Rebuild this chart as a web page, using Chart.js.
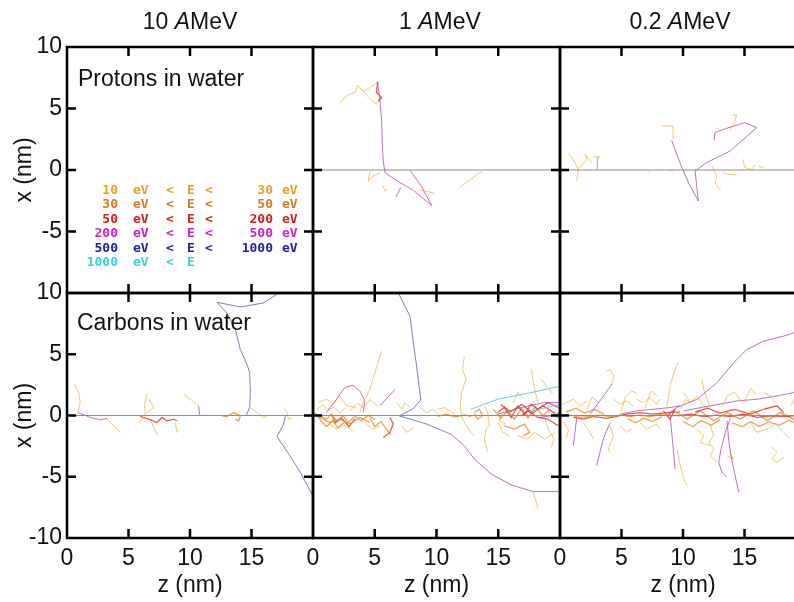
<!DOCTYPE html>
<html>
<head>
<meta charset="utf-8">
<script src="https://cdn.jsdelivr.net/npm/chart.js@4.4.1/dist/chart.umd.min.js"></script>
<style>
  body { margin: 0; background: #fff; }
  #fig { position: relative; width: 794px; height: 602px; overflow: hidden; font-family: 'Liberation Sans', Arial, sans-serif; color: #111; }
  #fig canvas { position: absolute; left: 0; top: 0; }
  .colTitle { position: absolute; top: 7px; width: 200px; text-align: center; font-size: 23px; line-height: 28px; }
  .note { position: absolute; font-size: 23px; line-height: 28px; white-space: nowrap; }
  .leg { position: absolute; left: 0; top: 0; font: bold 13px 'DejaVu Sans Mono', monospace; line-height: 14px; }
  .leg span { position: absolute; white-space: nowrap; }
</style>
</head>
<body>
<div id="fig">
  <canvas id="p0" width="812" height="602"></canvas>
  <canvas id="p1" width="812" height="602"></canvas>
  <canvas id="p2" width="812" height="602"></canvas>
  <canvas id="c0" width="812" height="602"></canvas>
  <canvas id="c1" width="812" height="602"></canvas>
  <canvas id="c2" width="812" height="602"></canvas>
  <div class="colTitle" style="left:90px">10 <i>A</i>MeV</div>
  <div class="colTitle" style="left:340px">1 <i>A</i>MeV</div>
  <div class="colTitle" style="left:580px">0.2 <i>A</i>MeV</div>
  <div class="note" style="left:78px;top:64px">Protons in water</div>
  <div class="note" style="left:77px;top:308px">Carbons in water</div>
  <div id="legend"></div>
</div>
<script>
// energy bands of the secondary electrons
const energyLow = [10, 30, 50, 200, 500, 1000];
const energyHigh = [30, 50, 200, 500, 1000, null];

// axis ticks
const zTicks = [0, 5, 10, 15];
const xTicksTop = [10, 5, 0, -5];
const xTicksBottom = [10, 5, 0, -5, -10];
const ionPath = [0, 20];

// tracks: [band, z0, x0, z1, x1, ...] (nm)
const protons10 = [];

const protons1 = [
  [3, 7.86,-0.03, 8.81,-1.38, 9.62,-2.90, 8.13,-1.65, 6.91,-0.95, 5.83,-0.22, 5.69,0.73, 5.61,2.09, 5.56,3.98, 5.42,5.61, 5.28,6.69, 5.23,7.18],
  [2, 5.23,7.18, 5.15,6.30, 5.56,5.90, 5.30,5.60],
  [0, 2.22,5.47, 2.71,6.02, 3.47,6.37, 3.58,6.91, 4.07,6.37, 4.66,6.75, 5.20,7.10],
  [0, 4.07,6.37, 4.66,5.75, 5.15,5.34, 5.42,5.83],
  [0, 4.61,-0.08, 4.47,-0.89, 4.88,-0.49, 5.42,-0.22],
  [0, 5.69,-1.30, 5.83,-1.71, 6.02,-1.57],
  [3, 6.72,-2.20, 7.10,-1.44],
  [0, 11.92,-1.38, 12.52,-0.95, 13.01,-0.62, 13.28,-0.30, 13.69,-0.16],
  [0, 8.62,-1.65, 9.35,-1.76, 9.89,-1.92]
];

const protons02 = [
  [3, 9.08,2.41, 9.49,1.27, 9.97,0.05, 10.57,-1.30, 11.25,-2.52, 10.98,-0.08, 11.92,0.60, 13.82,1.54, 15.99,3.44, 15.04,3.85, 13.55,3.39, 12.60,3.04, 12.52,2.41],
  [0, 8.27,3.58, 9.16,3.58, 9.21,2.49],
  [0, 14.04,4.47, 14.36,4.47, 14.15,3.72, 13.82,3.23],
  [0, 0.68,1.41, 1.22,0.60, 1.49,0.05, 1.36,-0.89],
  [0, 1.49,0.05, 2.17,0.87, 2.03,1.27, 2.57,0.60],
  [0, 2.71,1.06, 3.25,1.06, 3.04,1.06, 3.04,0.00],
  [0, 7.18,-0.08, 7.37,-0.22],
  [0, 8.81,0.05, 9.21,-0.08],
  [0, 12.33,0.33, 12.74,-0.49, 12.60,-1.03, 13.06,-1.65],
  [0, 13.28,-0.22, 13.69,-0.35, 14.36,-0.41],
  [0, 14.85,0.87, 15.04,0.19, 15.58,0.05, 15.85,0.41],
  [0, 16.12,0.33, 16.59,0.14]
];

const carbons10 = [
  [4, 17.21,10.0, 15.99,9.19, 14.09,8.86, 12.20,9.24, 13.01,8.37, 13.69,7.02, 14.09,5.39, 14.63,4.17, 14.85,3.50, 14.91,1.87, 14.85,0.65, 14.58,0.03],
  [4, 17.75,-0.08, 17.56,-0.84, 17.07,-1.71, 18.02,-3.14, 18.97,-4.63, 20.0,-6.59],
  [3, 0.81,0.24, 1.22,0.11, 1.90,-0.16, 2.71,-0.35, 3.25,-0.24],
  [0, 0.60,2.55, 0.95,1.87, 1.08,1.06, 0.87,0.24],
  [0, 3.25,-0.30, 3.79,-0.84, 4.34,-1.38],
  [0, 6.50,1.73, 6.29,0.87, 6.37,-0.03, 5.83,-0.57],
  [2, 5.96,-0.08, 6.64,-0.30, 7.32,-0.57, 7.72,-0.16, 8.13,-0.43, 8.67,-0.30, 8.94,-0.43],
  [0, 6.78,-0.30, 7.10,-1.11, 7.37,-1.65],
  [0, 8.81,-0.57, 8.94,-1.38, 9.08,-1.25],
  [0, 9.49,1.73, 10.03,1.33, 10.70,0.79],
  [3, 10.70,0.79, 10.79,0.03],
  [0, 6.64,1.33, 7.05,0.65, 6.50,0.24],
  [1, 12.60,-0.03, 13.01,-0.08, 13.55,0.24, 14.09,-0.03, 13.96,-0.43, 13.69,-0.30],
  [0, 14.91,0.65, 15.45,0.24, 15.99,-0.16, 16.26,-0.08],
  [0, 17.62,0.65, 17.89,0.24, 18.02,-0.30, 18.29,-0.24]
];

const carbons1 = [
  [4, 6.91,10.0, 7.86,8.10, 8.13,5.93, 8.46,3.50, 8.73,1.27, 8.13,0.57, 6.99,-0.03, 9.21,-0.70, 10.30,-1.17],
  [3, 10.30,-1.17, 11.17,-1.52, 12.25,-2.47, 13.06,-3.55, 14.42,-4.77, 16.04,-5.66, 17.81,-6.21, 20.05,-6.21],
  [0, 5.56,5.26, 5.01,3.50, 4.61,2.14, 4.07,1.06, 3.79,0.24],
  [3, 1.08,0.24, 1.90,1.33, 2.57,2.28, 3.25,2.47, 3.79,2.01, 4.20,1.19, 4.07,0.24],
  [3, 5.42,0.79, 6.64,2.14],
  [1, 0.54,-0.03, 1.08,-0.30, 1.49,0.11, 1.90,-0.43, 2.44,-0.03, 2.85,-0.57, 3.39,-0.08, 3.93,-0.43, 4.47,0.03, 5.01,-0.35],
  [1, 0.54,-0.16, 1.36,-0.57, 2.17,-0.30, 2.98,-0.70, 3.79,-0.16, 4.61,-0.57],
  [2, 6.23,-0.16, 6.50,-0.70, 6.23,-1.38, 5.69,-1.79],
  [0, 0.41,1.06, 1.08,1.33, 1.63,0.92, 2.17,1.60, 2.71,0.79, 3.52,0.65],
  [0, 1.36,-0.70, 1.90,-1.11, 2.57,-0.84, 3.25,-1.25],
  [0, 4.34,-0.70, 4.88,-1.11, 5.42,-0.84],
  [0, 6.78,1.06, 7.18,0.51, 7.45,1.06, 7.86,0.65],
  [0, 7.18,-0.84, 7.59,-1.38, 8.13,-0.98],
  [0, 8.67,0.65, 9.21,0.24, 9.76,0.51, 10.30,-0.03],
  [1, 10.08,-0.08, 10.80,0.10, 11.50,-0.10, 12.30,0.05, 12.80,-0.10],
  [0, 0.30,0.50, 0.80,0.90, 1.20,0.40, 1.70,0.70, 2.20,0.20, 2.60,0.60],
  [1, 0.20,0.20, 0.70,-0.50, 1.10,-0.90, 1.60,-0.40, 2.00,-1.00, 2.50,-0.60],
  [2, 1.50,0.10, 1.80,-0.60, 2.30,-0.20, 2.90,-0.90, 3.40,-0.30],
  [0, 3.00,0.40, 3.60,1.00, 4.10,0.60, 4.60,1.30, 5.20,0.80],
  [1, 4.60,-0.20, 5.00,-0.90, 5.50,-0.50, 6.00,-1.20, 6.30,-1.60],
  [0, 12.25,4.85, 12.11,3.77, 12.38,2.96, 12.03,1.87, 11.92,0.79, 12.11,-0.30, 12.79,-1.38, 13.06,-1.65],
  [0, 10.08,0.51, 10.62,0.65, 11.30,0.24, 11.71,-0.16],
  [1, 13.06,0.24, 13.47,0.51, 13.74,-0.03, 13.33,-0.30, 13.06,0.11],
  [0, 13.88,0.79, 14.15,0.24, 14.28,-0.84, 14.01,-1.11, 13.88,-1.92, 14.15,-3.01],
  [5, 12.79,0.51, 14.96,1.33, 17.67,1.87, 20.11,2.41],
  [5, 17.67,0.38, 20.11,0.92],
  [2, 14.96,0.24, 15.50,0.65, 16.04,-0.16, 16.59,0.79, 17.13,0.11, 17.67,0.92, 18.21,0.51, 19.02,1.06, 19.84,0.65],
  [2, 16.86,-0.03, 17.40,0.38, 18.21,-0.16, 19.02,-0.30, 19.84,-0.84],
  [3, 14.96,0.11, 16.86,0.65, 18.75,1.06, 20.11,1.06],
  [3, 18.21,-0.16, 19.29,-0.03, 20.11,0.24],
  [1, 14.60,0.50, 15.20,-0.20, 15.80,0.40, 16.30,-0.30, 16.90,0.60, 17.40,-0.20, 18.00,0.70, 18.60,0.00, 19.20,0.50, 19.80,-0.20],
  [2, 15.20,0.90, 16.00,0.30, 16.90,0.90, 17.80,0.20, 18.60,0.80, 19.60,0.20],
  [0, 15.00,-0.50, 15.30,-1.30, 15.90,-1.70],
  [0, 18.80,-0.30, 19.10,-1.20, 19.50,-1.90, 19.30,-2.60],
  [0, 16.20,1.00, 16.60,1.90, 17.00,1.40],
  [0, 17.67,3.77, 17.81,2.96, 17.94,2.14, 18.21,1.06],
  [0, 18.48,2.96, 19.02,2.28, 19.43,1.73],
  [1, 15.50,-0.84, 16.31,-1.11, 17.13,-0.70, 17.54,-1.38, 17.00,-1.65],
  [0, 16.59,-1.65, 17.40,-1.92, 17.94,-1.38, 18.75,-1.92, 19.56,-1.38],
  [0, 17.81,-6.26, 18.08,-7.07, 18.21,-7.61],
  [0, 15.34,0.24, 15.07,-0.43, 15.61,-0.70]
];

const carbons02 = [
  [1, 0.00,-0.03, 0.81,0.03, 1.63,-0.16, 2.44,-0.08, 3.25,0.03, 4.07,-0.08, 4.88,0.03, 5.69,-0.08, 6.50,0.03, 7.32,-0.08, 8.13,0.08, 8.94,-0.03, 9.76,0.03],
  [2, 1.08,-0.16, 1.90,-0.30, 2.71,-0.08, 3.79,-0.24, 4.61,-0.08, 5.42,0.11, 6.50,0.24, 7.59,0.11, 8.67,0.24, 9.76,0.30],
  [3, 2.44,0.11, 3.25,1.19, 3.93,2.14, 4.20,2.55],
  [0, 4.20,2.55, 4.39,3.23, 4.07,3.77, 3.79,3.64],
  [3, 1.36,-0.16, 1.22,-1.38, 1.08,-2.47],
  [3, 4.07,-0.57, 3.52,-1.92, 2.98,-4.09],
  [3, 8.94,0.11, 9.08,-1.38, 9.21,-2.74, 9.35,-4.36],
  [0, 8.67,0.51, 8.94,2.41, 9.35,3.77, 9.62,4.31],
  [0, 0.27,0.92, 1.08,1.33, 1.63,0.79, 2.17,1.19],
  [0, 1.90,-0.57, 2.44,-1.38, 2.71,-1.92],
  [0, 4.07,-0.84, 4.34,-1.65, 3.93,-2.74, 4.07,-3.01],
  [0, 4.34,1.33, 4.88,0.92, 5.42,1.19, 5.96,0.79],
  [0, 4.88,-0.84, 5.42,-1.38, 5.83,-1.11],
  [0, 6.23,1.33, 6.78,1.06, 7.32,1.46, 7.86,0.92, 8.13,1.33],
  [0, 6.50,-0.57, 7.05,-1.11, 7.86,-0.70, 8.13,-1.11],
  [3, 4.88,0.11, 6.23,0.38, 7.59,0.51, 8.94,0.65, 9.76,0.79],
  [2, 8.40,0.38, 8.94,-0.30, 9.35,0.51, 8.67,-0.03],
  [0, 0.30,-0.50, 0.70,-1.20, 0.50,-1.80],
  [1, 0.50,0.30, 1.30,0.60, 2.00,0.20, 2.80,0.50, 3.60,0.10],
  [0, 2.20,0.50, 2.60,1.50, 3.10,1.10],
  [0, 5.00,0.40, 5.30,1.50, 5.80,2.00, 6.30,1.80],
  [1, 5.50,-0.30, 6.20,-0.60, 6.80,-0.20, 7.50,-0.50, 8.30,-0.10],
  [0, 6.90,0.60, 7.40,2.00, 7.90,1.60],
  [0, 9.80,0.50, 10.20,1.30, 10.80,0.90],
  [1, 10.00,-0.50, 10.80,-0.90, 11.50,-0.40, 12.30,-0.80, 13.00,-0.30],
  [0, 13.20,0.70, 13.60,1.60, 14.20,1.90, 14.70,1.20],
  [1, 14.00,-0.60, 14.80,-0.90, 15.50,-0.50, 16.20,-0.90, 17.00,-0.50, 17.80,-0.80, 18.60,-0.40, 19.40,-0.70],
  [2, 11.00,0.30, 12.00,0.60, 13.00,0.20, 14.20,0.50, 15.50,0.10, 16.50,0.50],
  [0, 18.80,0.80, 19.20,1.70, 19.60,1.20],
  [0, 15.00,1.20, 15.50,2.20, 16.00,1.70],
  [3, 9.51,0.65, 11.14,1.33, 12.76,2.68, 14.12,4.31, 15.20,5.39, 16.56,6.07, 18.18,6.48, 19.02,6.75, 20.00,6.90],
  [3, 13.85,-0.24, 13.44,-1.38, 13.09,-2.74, 12.90,-3.82, 13.17,-4.63, 13.58,-5.04],
  [3, 13.58,-0.43, 13.71,-1.92, 13.85,-3.01, 14.12,-4.36, 14.53,-6.26],
  [3, 10.05,0.38, 12.22,0.79, 14.39,1.19, 16.02,1.33, 17.64,1.60, 19.02,1.87],
  [2, 9.51,-0.03, 10.60,0.11, 11.68,-0.08, 12.76,0.03, 13.85,-0.08, 14.93,0.11, 16.02,-0.16, 17.10,-0.03, 18.18,-0.08, 19.02,-0.03, 20.00,0.05],
  [1, 9.51,0.24, 10.33,-0.30, 11.41,0.38, 12.49,-0.43, 13.58,0.24, 14.66,-0.30, 15.74,0.38, 16.83,-0.43, 17.91,0.24, 19.02,-0.30, 20.00,0.10],
  [0, 11.54,2.95, 11.68,2.14, 11.95,1.33, 12.22,0.65],
  [0, 10.05,1.87, 10.60,1.06, 11.14,1.60, 11.68,0.79],
  [0, 12.22,-0.84, 12.49,-1.65, 12.09,-2.20, 12.49,-2.74, 12.22,-3.28, 12.76,-3.82],
  [0, 9.51,-2.74, 9.78,-4.09, 10.05,-5.17, 10.33,-5.72],
  [0, 15.47,-0.57, 16.02,-1.38, 16.83,-1.11, 17.37,-0.84],
  [0, 17.10,-2.47, 17.64,-3.01, 17.24,-3.55, 17.64,-3.82, 18.18,-3.41],
  [0, 16.56,1.87, 17.10,1.60, 17.51,1.06],
  [0, 17.64,-0.84, 18.18,-1.38, 18.72,-1.92],
  [0, 11.14,-1.11, 11.68,-1.65, 11.41,-2.20, 12.22,-2.47],
  [0, 13.85,-3.01, 14.12,-3.55, 13.58,-3.28],
  [2, 16.56,0.51, 17.64,0.79, 18.18,0.24]
];

// styles
const trackColors = ['rgba(236,180,70,0.75)', 'rgba(230,140,40,0.8)', 'rgba(214,50,45,0.8)',
                     'rgba(175,90,175,0.85)', 'rgba(105,105,170,0.85)', 'rgba(80,200,225,0.9)'];
const legendColors = ['#e3a32a', '#d9792a', '#d61e1e', '#d21ec0', '#1e1ea0', '#3cd0d8'];
const FONT = "'Liberation Sans', Arial, sans-serif";
const W = 812, H = 602;
const colL = [67, 313, 560], colR = [313, 560, 806];
const rowT = [47, 293], rowB = [293, 538];

// box with inward ticks on every side
const frame = {
  id: 'frame',
  afterDraw(chart) {
    const { ctx, chartArea: a, scales: { x, y } } = chart;
    ctx.save();
    ctx.strokeStyle = '#000';
    ctx.lineWidth = 2.5;
    ctx.strokeRect(a.left, a.top, a.right - a.left, a.bottom - a.top);
    ctx.beginPath();
    zTicks.forEach(v => {
      if (v <= x.min || v >= x.max) return;
      const px = x.getPixelForValue(v);
      ctx.moveTo(px, a.top); ctx.lineTo(px, a.top + 9);
      ctx.moveTo(px, a.bottom); ctx.lineTo(px, a.bottom - 9);
    });
    xTicksBottom.forEach(v => {
      if (v <= y.min || v >= y.max) return;
      const py = y.getPixelForValue(v);
      ctx.moveTo(a.left, py); ctx.lineTo(a.left + 9, py);
      ctx.moveTo(a.right, py); ctx.lineTo(a.right - 9, py);
    });
    ctx.stroke();
    ctx.restore();
  }
};

function panel(id, tracks, col, row, withPath) {
  const datasets = [];
  if (withPath) {
    datasets.push({ data: ionPath.map(z => ({ x: z, y: 0 })), borderColor: '#8c8c8c', borderWidth: 1.2, showLine: true });
  }
  tracks.forEach(t => {
    const pts = [];
    for (let i = 1; i < t.length; i += 2) pts.push({ x: t[i], y: t[i + 1] });
    datasets.push({ data: pts, borderColor: trackColors[t[0]], borderWidth: (t[0] === 1 || t[0] === 2) ? 1.3 : 1, showLine: true });
  });

  const showY = col === 0, showX = row === 1;
  const yTicks = row === 0 ? xTicksTop : xTicksBottom;

  const xScale = {
    type: 'linear', min: 0, max: 20, display: showX,
    grid: { display: false, drawTicks: false }, border: { display: false },
    afterBuildTicks: s => { s.ticks = zTicks.map(v => ({ value: v })); },
    ticks: { padding: 7, color: '#111', font: { family: FONT, size: 23 } },
    title: { display: true, text: 'z (nm)', color: '#111', font: { family: FONT, size: 23 }, padding: { top: 0, bottom: 3 } }
  };
  if (showX) xScale.afterFit = s => { s.height = H - rowB[1]; };

  const yScale = {
    type: 'linear', min: -10, max: 10, display: showY,
    grid: { display: false, drawTicks: false }, border: { display: false },
    afterBuildTicks: s => { s.ticks = yTicks.map(v => ({ value: v })); },
    ticks: { padding: 5, color: '#111', font: { family: FONT, size: 23 } },
    title: { display: true, text: 'x (nm)', color: '#111', font: { family: FONT, size: 23 }, padding: { top: 11, bottom: 0 } }
  };
  if (showY) yScale.afterFit = s => { s.width = colL[0]; };

  new Chart(document.getElementById(id), {
    type: 'scatter',
    data: { datasets },
    options: {
      responsive: false,
      animation: false,
      elements: { point: { radius: 0 }, line: { tension: 0, fill: false } },
      plugins: { legend: { display: false }, tooltip: { enabled: false } },
      layout: { padding: { left: showY ? 0 : colL[col], right: W - colR[col], top: rowT[row], bottom: showX ? 0 : H - rowB[row] } },
      scales: { x: xScale, y: yScale }
    },
    plugins: [frame]
  });
}

panel('p0', protons10, 0, 0, false);
panel('p1', protons1, 1, 0, true);
panel('p2', protons02, 2, 0, true);
panel('c0', carbons10, 0, 1, true);
panel('c1', carbons1, 1, 1, true);
panel('c2', carbons02, 2, 1, true);

// energy legend in the first panel
const legend = document.getElementById('legend');
energyLow.forEach((lo, i) => {
  const row = document.createElement('div');
  row.className = 'leg';
  row.style.top = (183 + i * 14.4) + 'px';
  row.style.color = legendColors[i];
  let html = `<span style="left:58px;width:60px;text-align:right">${lo}</span>` +
             `<span style="left:133px">eV</span><span style="left:166px">&lt;</span><span style="left:187px">E</span>`;
  if (energyHigh[i] !== null) {
    html += `<span style="left:205px">&lt;</span>` +
            `<span style="left:213px;width:60px;text-align:right">${energyHigh[i]}</span>` +
            `<span style="left:282px">eV</span>`;
  }
  row.innerHTML = html;
  legend.appendChild(row);
});
</script>
</body>
</html>
